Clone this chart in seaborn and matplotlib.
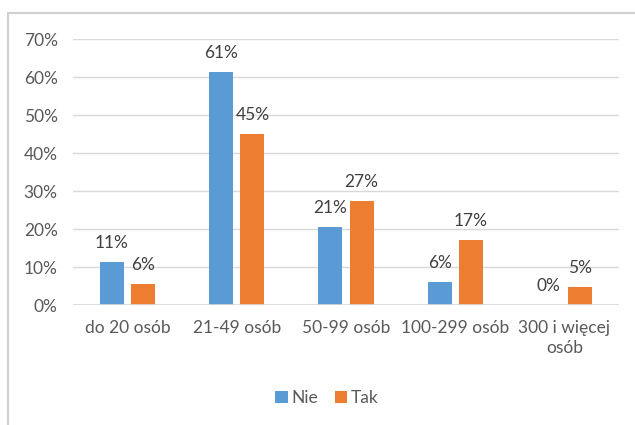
import matplotlib
matplotlib.use("Agg")
import matplotlib.pyplot as plt
from matplotlib.lines import Line2D
from matplotlib.patches import Patch
import seaborn as sns
import pandas as pd

# Company size groups and answer shares (%)
categories = ["do 20 osób", "21-49 osób", "50-99 osób", "100-299 osób", "300 i więcej\nosób"]
nie = [11.2, 61.4, 20.6, 6.1, 0.0]
tak = [5.6, 44.9, 27.4, 17.0, 4.7]
series = ["Nie", "Tak"]
colors = ["#5B9BD5", "#ED7D31"]
y_ticks = [0, 10, 20, 30, 40, 50, 60, 70]

df = pd.DataFrame({
    "kategoria": categories * 2,
    "seria": [series[0]] * len(categories) + [series[1]] * len(categories),
    "wartosc": nie + tak,
})

sns.set_theme(style="white")
plt.rcParams["font.family"] = ["Lato", "DejaVu Sans"]
FS = 12.5

fig = plt.figure(figsize=(6.35, 4.25), dpi=100)
ax = fig.add_axes([73 / 635, 1 - 305 / 425, (619 - 73) / 635, (305 - 39) / 425])

sns.barplot(data=df, x="kategoria", y="wartosc", hue="seria", order=categories,
            hue_order=series, palette=colors, width=0.57, gap=0.23,
            saturation=1, legend=False, ax=ax, linewidth=0)

ax.set_ylim(0, 70)
ax.set_xlim(-0.5, len(categories) - 0.5)
ax.set_yticks(y_ticks)
ax.set_yticklabels([f"{t}%" for t in y_ticks])
ax.yaxis.grid(True, color="#D9D9D9", linewidth=1)
ax.set_axisbelow(True)
for s in ax.spines.values():
    s.set_visible(False)
ax.axhline(0, color="#D9D9D9", linewidth=1.2, zorder=1)
ax.set_xlabel("")
ax.set_ylabel("")
ax.tick_params(axis="both", length=0, labelsize=FS, labelcolor="#595959")
ax.tick_params(axis="x", pad=11)
ax.tick_params(axis="y", pad=11)
for lbl in ax.get_xticklabels():
    lbl.set_linespacing(1.3)

for cont, vals in zip(ax.containers, [nie, tak]):
    ax.bar_label(cont, labels=[f"{v:.0f}%" for v in vals], padding=8,
                 fontsize=FS, color="#404040")

handles = [Patch(facecolor=c, edgecolor="none") for c in colors]
fig.legend(handles, series, loc="center", bbox_to_anchor=(0.515, 1 - 398 / 425),
           ncol=2, frameon=False, fontsize=FS, handlelength=0.7,
           handleheight=0.7, handletextpad=0.2, columnspacing=1.0,
           labelcolor="#595959")

# Chart frame (left and top edges)
frame_color = "#D0D0D0"
fig.add_artist(Line2D([8 / 635, 8 / 635], [0, 1 - 13 / 425], transform=fig.transFigure,
                      color=frame_color, linewidth=1.5))
fig.add_artist(Line2D([8 / 635, 1], [1 - 13 / 425, 1 - 13 / 425], transform=fig.transFigure,
                      color=frame_color, linewidth=1.5))

fig.savefig("out.png", dpi=100, facecolor="white")
